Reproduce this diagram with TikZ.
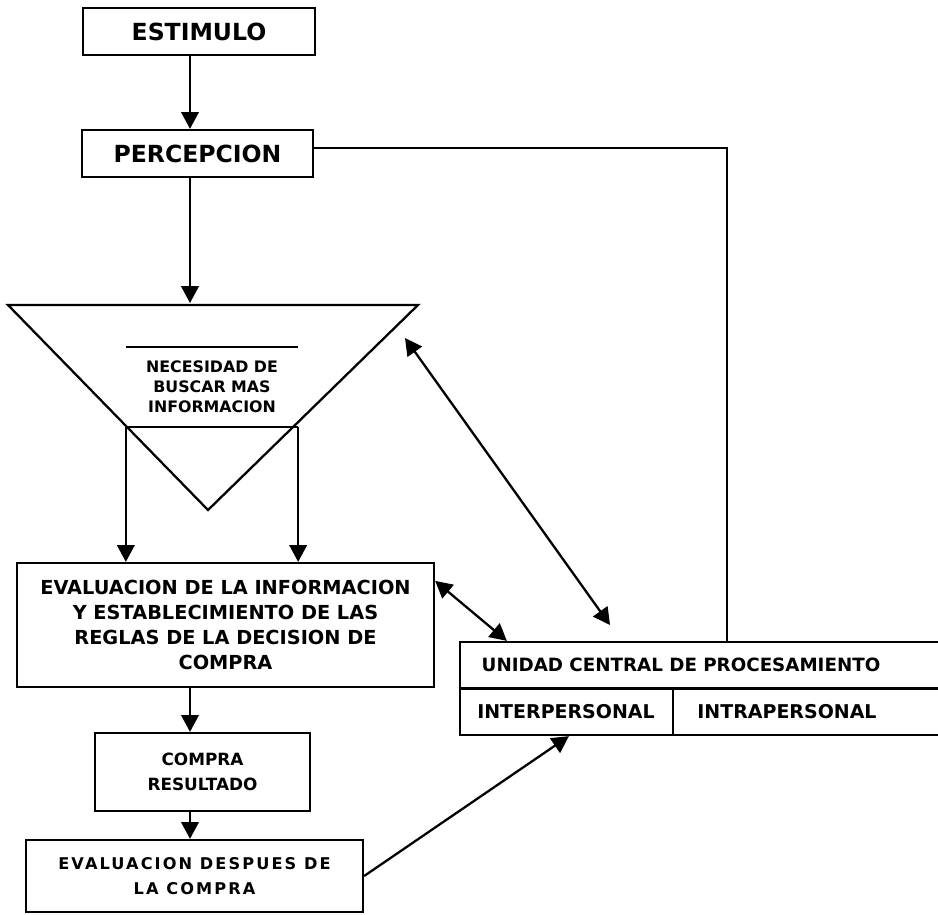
\documentclass[tikz,border=0pt]{standalone}
\usepackage{fontspec}
\setmainfont{DejaVu Sans}
\usetikzlibrary{arrows.meta}

\begin{document}
\begin{tikzpicture}[line width=0.65pt,>={Triangle[length=4.8pt,width=5pt]},
        box/.style={draw,align=center,inner sep=0pt}]
        \useasboundingbox (0,0) rectangle (9.38,-9.14);
        \clip (0,0) rectangle (9.38,-9.14);
        \coordinate (ax) at (1.9,0);
        \coordinate (ta) at (0.08,-3.05);
        \coordinate (tb) at (4.18,-3.05);
        \coordinate (tc) at (2.08,-5.10);
        \coordinate (ttop) at (1.9,-3.03);
        \coordinate (cn) at (7.27,-1.48);
        \coordinate (u1) at (4.05,-3.38);
        \coordinate (u2) at (6.10,-6.25);

        \node[box,minimum width=2.32cm,minimum height=0.47cm,font=\fontsize{6.7}{8}\selectfont\bfseries] (1) at (1.99,-0.315) {ESTIMULO};
        \node[box,minimum width=2.31cm,minimum height=0.47cm,font=\fontsize{6.7}{8}\selectfont\bfseries] (2) at (1.975,-1.535) {PERCEPCION};
        \path[draw] (ta) -- (tb) -- (tc) -- cycle;
        \node[align=center,inner sep=0pt,minimum width=1.70cm,minimum height=0.78cm,font=\fontsize{4.5}{5.7}\selectfont\bfseries] (3) at (2.12,-3.87) {NECESIDAD DE\\BUSCAR MAS\\INFORMACION};
        \path[draw,line width=0.4pt] (3.north west) -- (3.north east);
        \path[draw,line width=0.4pt] (3.south west) -- (3.south east);
        \node[box,minimum width=4.17cm,minimum height=1.24cm,font=\fontsize{5.5}{7.1}\selectfont\bfseries] (4) at (2.255,-6.25) {EVALUACION DE LA INFORMACION\\Y ESTABLECIMIENTO DE LAS\\REGLAS DE LA DECISION DE\\COMPRA};
        \node[box,minimum width=2.15cm,minimum height=0.78cm,font=\fontsize{4.8}{7.1}\selectfont\bfseries] (5) at (2.025,-7.72) {COMPRA\\RESULTADO};
        \node[box,minimum width=3.37cm,minimum height=0.72cm,font=\fontsize{4.6}{7.1}\selectfont\bfseries\addfontfeatures{LetterSpace=13}] (6) at (1.945,-8.76) {EVALUACION DESPUES DE\\LA COMPRA};
        \node[box,minimum width=4.9cm,minimum height=0.93cm] (7) at (7.05,-6.885) {};
        \node[font=\fontsize{5.2}{7}\selectfont\bfseries] (7a) at (6.81,-6.65) {UNIDAD CENTRAL DE PROCESAMIENTO};
        \node[font=\fontsize{5.4}{7}\selectfont\bfseries] (7b) at (5.66,-7.115) {INTERPERSONAL};
        \node[font=\fontsize{5.4}{7}\selectfont\bfseries] (7c) at (7.87,-7.115) {INTRAPERSONAL};
        \path[draw] (7.west) -- (7.east);
        \path[draw] (6.73,-6.885) -- (6.73,-7.35);

        \path[draw,->] (ax |- 1.south) -- (ax |- 2.north);
        \path[draw,->] (ax |- 2.south) -- (ttop);
        \path[draw,->] (3.south west) -- (3.south west |- 4.north);
        \path[draw,->] (3.south east) -- (3.south east |- 4.north);
        \path[draw,->] (ax |- 4.south) -- (ax |- 5.north);
        \path[draw,->] (ax |- 5.south) -- (ax |- 6.north);
        \path[draw,-] (cn -| 2.east) -- (cn) -- (cn |- 7.north);
        \path[draw,<->] (u1) -- (u2);
        \path[draw,<->] ([yshift=-0.19cm]4.north east) -- ([xshift=0.48cm]7.north west);
        \path[draw,->] (6.east) -- ([xshift=1.1cm]7.south west);
    \end{tikzpicture}
\end{document}
